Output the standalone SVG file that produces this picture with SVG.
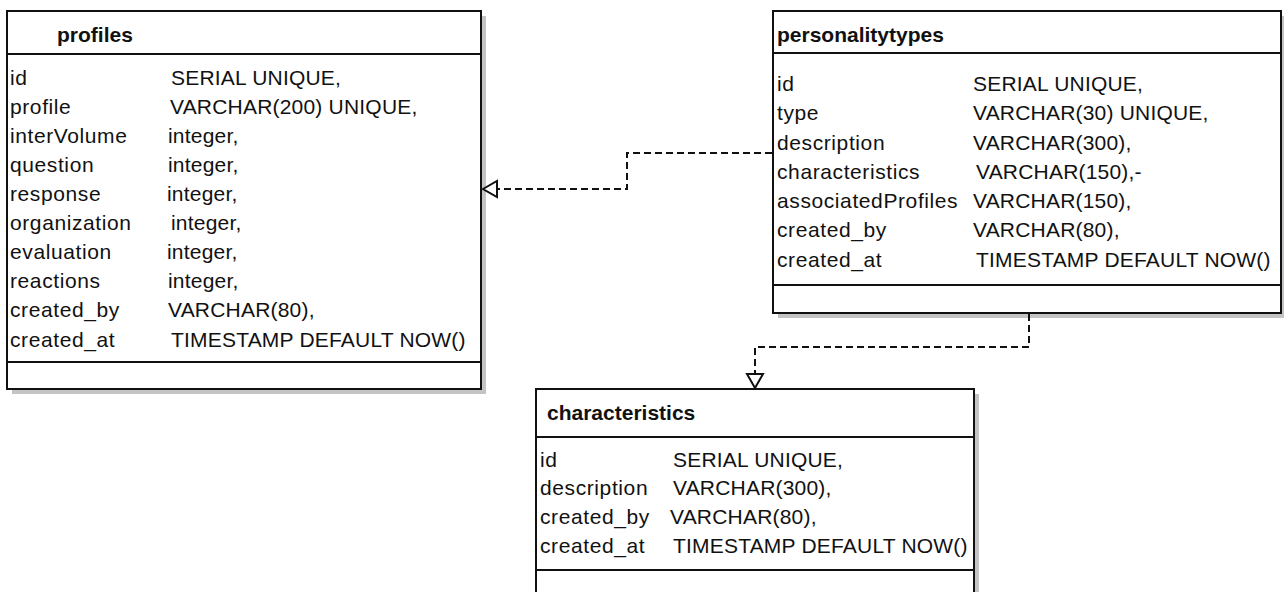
<svg xmlns="http://www.w3.org/2000/svg" width="1284" height="592" viewBox="0 0 1284 592">
<style>
.shadow{fill:#c4c4c4;stroke:none}
.box{fill:#fff;stroke:#111;stroke-width:2}
.sep{stroke:#111;stroke-width:2}
.title{font-family:"Liberation Sans",Arial,sans-serif;font-size:21px;font-weight:bold;fill:#111}
.t{font-family:"Liberation Sans",Arial,sans-serif;font-size:21px;fill:#111}
.n{letter-spacing:0.6px}
.v{letter-spacing:0.2px}
.conn{fill:none;stroke:#111;stroke-width:2;stroke-dasharray:7 4}
.head{fill:#fff;stroke:#111;stroke-width:2}
</style>
<rect width="1284" height="592" fill="#fff"/>
<g id="profiles">
<rect class="shadow" x="12" y="16" width="474" height="378"/>
<rect class="box" x="7" y="11" width="474" height="378"/>
<line class="sep" x1="7" y1="54" x2="481" y2="54"/>
<line class="sep" x1="7" y1="362" x2="481" y2="362"/>
<text class="title" x="57" y="42">profiles</text>
<g class="t">
<text class="n" x="10" y="85">id</text><text class="v" x="171" y="85">SERIAL UNIQUE,</text>
<text class="n" x="10" y="114">profile</text><text class="v" x="170" y="114">VARCHAR(200) UNIQUE,</text>
<text class="n" x="10" y="143">interVolume</text><text class="v" x="168" y="143">integer,</text>
<text class="n" x="10" y="172">question</text><text class="v" x="168" y="172">integer,</text>
<text class="n" x="10" y="201">response</text><text class="v" x="167" y="201">integer,</text>
<text class="n" x="10" y="230">organization</text><text class="v" x="171" y="230">integer,</text>
<text class="n" x="10" y="259">evaluation</text><text class="v" x="167" y="259">integer,</text>
<text class="n" x="10" y="288">reactions</text><text class="v" x="168" y="288">integer,</text>
<text class="n" x="10" y="317">created_by</text><text class="v" x="168" y="317">VARCHAR(80),</text>
<text class="n" x="10" y="347">created_at</text><text class="v" x="171" y="347">TIMESTAMP DEFAULT NOW()</text>
</g>
</g>
<g id="personalitytypes">
<rect class="shadow" x="778" y="16" width="508" height="302"/>
<rect class="box" x="773" y="11" width="508" height="302"/>
<line class="sep" x1="773" y1="53" x2="1281" y2="53"/>
<line class="sep" x1="773" y1="285" x2="1281" y2="285"/>
<text class="title" x="777" y="42">personalitytypes</text>
<g class="t">
<text class="n" x="777" y="91">id</text><text class="v" x="973" y="91">SERIAL UNIQUE,</text>
<text class="n" x="777" y="120">type</text><text class="v" x="973" y="120">VARCHAR(30) UNIQUE,</text>
<text class="n" x="777" y="150">description</text><text class="v" x="973" y="150">VARCHAR(300),</text>
<text class="n" x="777" y="179">characteristics</text><text class="v" x="976" y="179">VARCHAR(150),-</text>
<text class="n" x="777" y="208">associatedProfiles</text><text class="v" x="973" y="208">VARCHAR(150),</text>
<text class="n" x="777" y="237">created_by</text><text class="v" x="973" y="237">VARCHAR(80),</text>
<text class="n" x="777" y="267">created_at</text><text class="v" x="976" y="267">TIMESTAMP DEFAULT NOW()</text>
</g>
</g>
<g id="characteristics">
<rect class="shadow" x="541" y="394" width="438" height="210"/>
<rect class="box" x="536" y="389" width="438" height="210"/>
<line class="sep" x1="536" y1="437" x2="974" y2="437"/>
<line class="sep" x1="536" y1="570" x2="974" y2="570"/>
<text class="title" x="547" y="420">characteristics</text>
<g class="t">
<text class="n" x="540" y="467">id</text><text class="v" x="673" y="467">SERIAL UNIQUE,</text>
<text class="n" x="540" y="495">description</text><text class="v" x="673" y="495">VARCHAR(300),</text>
<text class="n" x="540" y="524">created_by</text><text class="v" x="670" y="524">VARCHAR(80),</text>
<text class="n" x="540" y="553">created_at</text><text class="v" x="673" y="553">TIMESTAMP DEFAULT NOW()</text>
</g>
</g>
<g id="connectors">
<path class="conn" d="M772 153 H627 V189 H496"/>
<polygon class="head" points="483,189 497,181 497,197"/>
<path class="conn" d="M1029 314 V347 H755 V374"/>
<polygon class="head" points="755,388 747,374 763,374"/>
</g>
</svg>
